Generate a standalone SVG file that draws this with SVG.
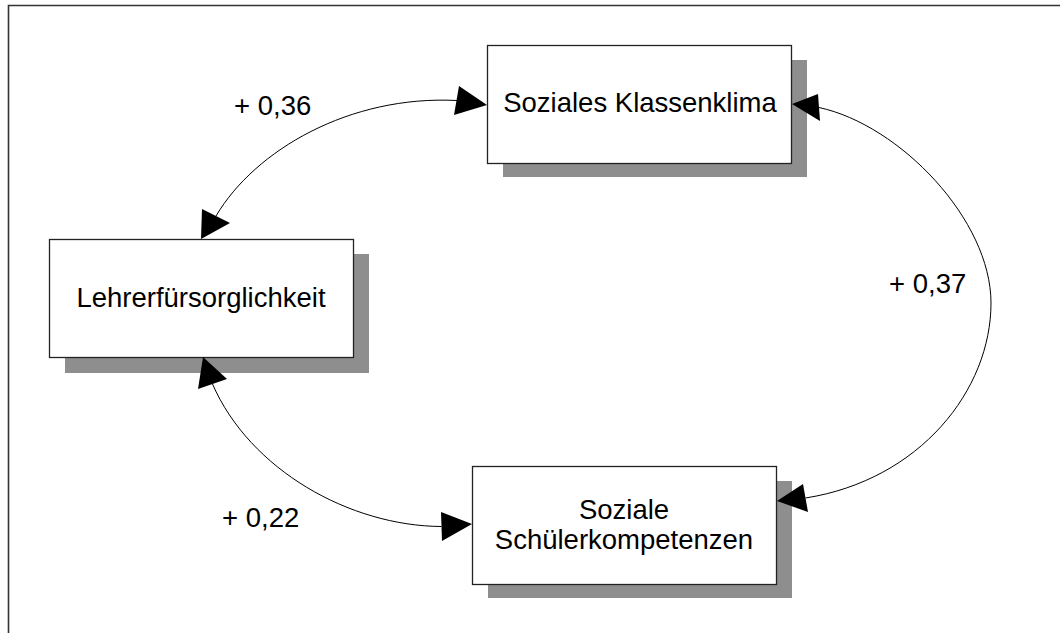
<svg xmlns="http://www.w3.org/2000/svg" width="1060" height="633" viewBox="0 0 1060 633">
<style>
.frame{fill:none;stroke:#333;stroke-width:1.6}
.shadow{fill:#8e8e8e;stroke:none}
.box{fill:#fff;stroke:#222;stroke-width:1.3}
.lbl{font-family:"Liberation Sans",Arial,sans-serif;font-size:27.5px;fill:#000}
.mid{text-anchor:middle}
.edge{fill:none;stroke:#000;stroke-width:1}
.head{fill:#000;stroke:none}
</style>
<rect width="1060" height="633" fill="#fff"/>
<path class="frame" d="M8.5,633 V5.5 H1060"/>
<g id="klassenklima">
  <rect class="shadow" x="503" y="60" width="304" height="117"/>
  <rect class="box" x="487.5" y="45.5" width="304" height="118"/>
  <text class="lbl mid" x="640" y="112">Soziales Klassenklima</text>
</g>
<g id="lehrer">
  <rect class="shadow" x="65" y="254" width="304" height="119"/>
  <rect class="box" x="49.5" y="239.5" width="304" height="118"/>
  <text class="lbl mid" x="201" y="307">Lehrerfürsorglichkeit</text>
</g>
<g id="schueler">
  <rect class="shadow" x="488" y="481" width="304" height="117"/>
  <rect class="box" x="472.5" y="466.5" width="304" height="118"/>
  <text class="lbl mid" x="624" y="519">Soziale</text>
  <text class="lbl mid" x="624" y="549">Schülerkompetenzen</text>
</g>
<g id="connectors">
  <path class="edge" d="M216,216 C255,150 350,95 457,100.5"/>
  <polygon class="head" points="201,239 202,209 230,223"/>
  <polygon class="head" points="487,105 459,86 454,115"/>
  <path class="edge" d="M212.5,384 C250,470 350,526 441.5,526.5"/>
  <polygon class="head" points="203,357 198,389 227,379"/>
  <polygon class="head" points="472,524 441,512 442,541"/>
  <path class="edge" d="M819,107.5 C900,125 991,220 991,303 C991,390 920,480 805.5,498"/>
  <polygon class="head" points="792,104 818,94 820,121"/>
  <polygon class="head" points="777,501 803,484 808,512"/>
  <text class="lbl" x="234" y="115">+ 0,36</text>
  <text class="lbl" x="222" y="527">+ 0,22</text>
  <text class="lbl" x="889" y="293">+ 0,37</text>
</g>
</svg>
